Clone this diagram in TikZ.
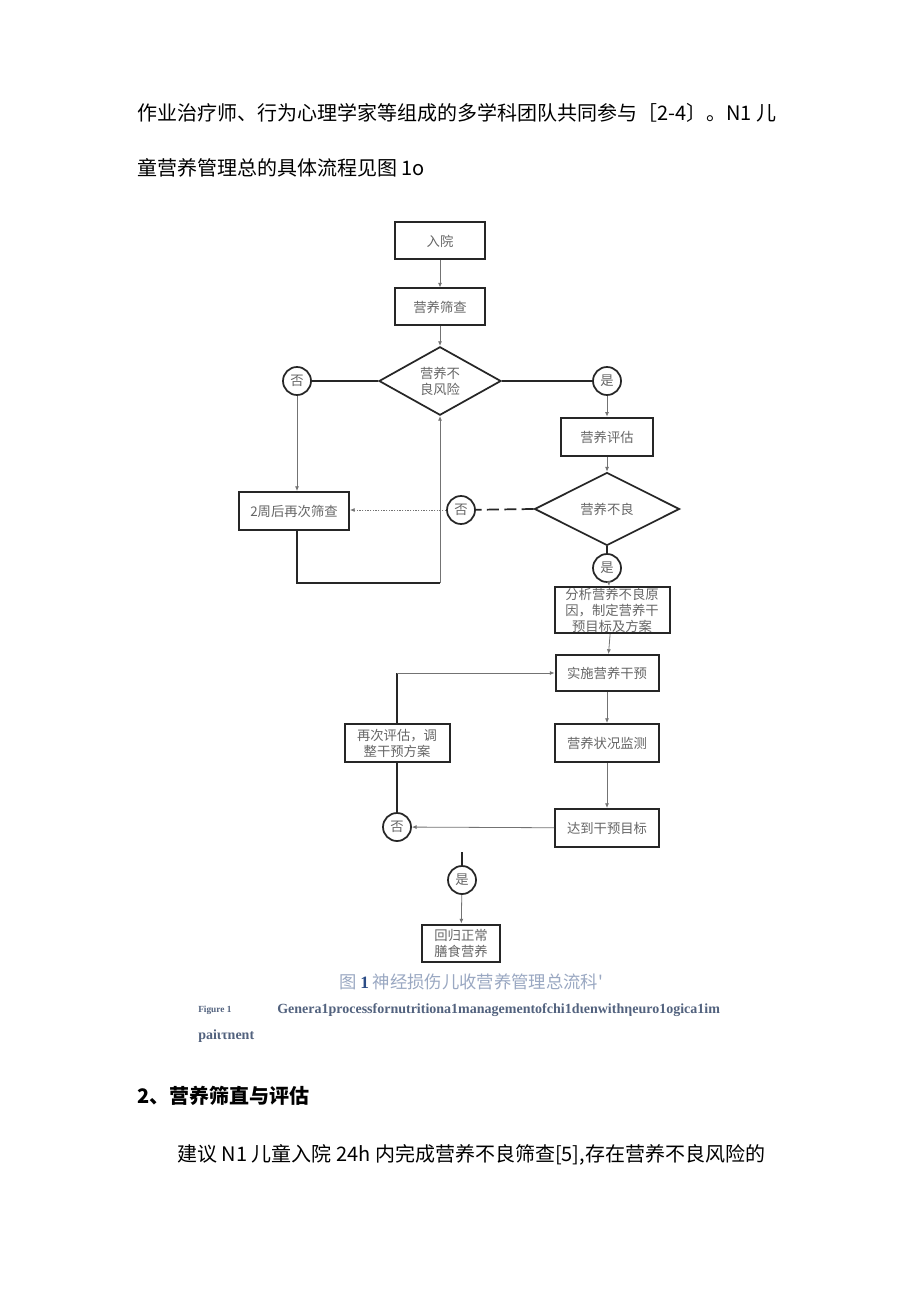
\documentclass[tikz,border=0pt]{standalone}
\usepackage{fontspec}
\setmainfont{Liberation Serif}
\newfontfamily\cjk{Noto Sans CJK SC}
\usetikzlibrary{shapes.geometric, arrows.meta}
\definecolor{boxtext}{HTML}{666666}
\definecolor{captext}{HTML}{9AA8C2}
\definecolor{capnum}{HTML}{2B4C86}
\definecolor{figtext}{HTML}{52627E}

\begin{document}
\begin{tikzpicture}[x=0.75pt,y=-0.75pt]
	\tikzstyle{box} = [rectangle,draw=black!85,line width=1.5pt,fill=white,inner sep=0pt,align=center,font=\cjk\fontsize{10}{12}\selectfont,text=boxtext]
	\tikzstyle{decision} = [diamond,draw=black!85,line width=1.3pt,fill=white,inner sep=0pt,align=center,font=\cjk\fontsize{10}{12}\selectfont,text=boxtext]
	\tikzstyle{yesno} = [circle,draw=black!85,line width=1.3pt,fill=white,minimum size=21pt,inner sep=0pt,font=\cjk\fontsize{10}{12}\selectfont,text=boxtext]
	\tikzstyle{edge} = [draw=black!55,line width=0.6pt,-{Latex[length=3.5pt,width=3pt]}]
	\tikzstyle{thickline} = [draw=black!85,line width=1.3pt]
	\tikzstyle{body} = [anchor=west,inner sep=0pt,font=\cjk\fontsize{15}{18}\selectfont]
	\fill[white] (0,0) rectangle (920,1301);
	\useasboundingbox (0,0) rectangle (920,1301);
	\node[body] (t1) at (137,113) {作业治疗师、行为心理学家等组成的多学科团队共同参与［2-4〕。N1 儿};
	\node[body] (t2) at (137,168) {童营养管理总的具体流程见图 1o};
	\node[box,minimum width=67.5pt,minimum height=27.75pt] (n1) at (440,241) {入院};
	\node[box,minimum width=67.5pt,minimum height=27.75pt] (n2) at (440,307) {营养筛查};
	\node[decision,minimum width=91.5pt,minimum height=47pt] (n3) at (440,381) {营养不\\良风险};
	\node[yesno] (n4) at (297,381) {否};
	\node[yesno] (n5) at (607,381) {是};
	\node[box,minimum width=69pt,minimum height=29pt] (n6) at (607,437) {营养评估};
	\node[decision,minimum width=108.75pt,minimum height=54.75pt] (n7) at (607,509) {营养不良};
	\node[yesno] (n8) at (461,510) {否};
	\node[box,minimum width=82.5pt,minimum height=28.5pt] (n9) at (294,511) {2周后再次筛查};
	\node[yesno] (n10) at (607,568) {是};
	\node[box,minimum width=86.25pt,minimum height=34.5pt] (n11) at (612,610) {分析营养不良原\\因，制定营养干\\预目标及方案};
	\node[box,minimum width=77.25pt,minimum height=27pt] (n12) at (607,673) {实施营养干预};
	\node[box,minimum width=78pt,minimum height=28.5pt] (n13) at (607,743) {营养状况监测};
	\node[box,minimum width=78pt,minimum height=28.5pt] (n14) at (607,828) {达到干预目标};
	\node[box,minimum width=78.75pt,minimum height=28.5pt] (n15) at (397,743) {再次评估，调\\整干预方案};
	\node[yesno] (n16) at (397,827) {否};
	\node[yesno] (n17) at (462,880) {是};
	\node[box,minimum width=58.5pt,minimum height=27.75pt] (n18) at (461,943) {回归正常\\膳食营养};
	\coordinate (c1) at (440,583);
	\coordinate (c2) at (397,673);
	\coordinate (c3) at (462,852);
	\draw[edge] (n1)--(n2);
	\draw[edge] (n2)--(n3);
	\draw[thickline] (n3.west)--(n4);
	\draw[thickline] (n3.east)--(n5);
	\draw[edge] (n4)--(n4 |- n9.north);
	\draw[edge] (n5)--(n6);
	\draw[edge] (n6)--(n7);
	\draw[thickline,dash pattern=on 9pt off 4pt] (n7.west)--(n8);
	\draw[edge,dash pattern=on 1pt off 1pt] (n8)--(n8 -| n9.east);
	\draw[thickline] (n10)--(n7.south);
	\draw[edge] (n10)--(n11);
	\draw[thickline] (n9.south -| n4)|-(c1);
	\draw[edge] (c1)--(n3.south);
	\draw[edge] (n11)--(n12);
	\draw[edge] (n12)--(n13);
	\draw[edge] (n13)--(n14);
	\draw[edge] (n14)--(n16);
	\draw[thickline] (n16)--(n15);
	\draw[thickline] (n15.north -| c2)--(c2);
	\draw[edge] (c2)--(n12.west);
	\draw[thickline] (c3)--(n17);
	\draw[edge] (n17)--(n18);
	\node[anchor=center,inner sep=0pt,text=captext,font=\cjk\fontsize{13}{15}\selectfont] (cap) at (471,982) {图 {\rmfamily\bfseries\color{capnum}1} 神经损伤儿收营养管理总流科'};
	\node[anchor=west,inner sep=0pt,text=figtext,font=\bfseries\fontsize{7}{8}\selectfont] (fig) at (198,1010) {Figure 1};
	\node[anchor=west,inner sep=0pt,text=figtext,font=\bfseries\fontsize{10.5}{12}\selectfont] (eng1) at (277,1010) {Genera1processfornutritiona1managementofchi1dιenwithηeuro1ogica1im};
	\node[anchor=west,inner sep=0pt,text=figtext,font=\bfseries\fontsize{10.5}{12}\selectfont] (eng2) at (198,1036) {paiιτnent};
	\node[body,font=\cjk\bfseries\fontsize{15}{18}\selectfont] (h2) at (137,1096) {2、营养筛直与评估};
	\node[body] (t3) at (177,1155) {建议 N1 儿童入院 24h 内完成营养不良筛查[5],存在营养不良风险的};
\end{tikzpicture}
\end{document}
